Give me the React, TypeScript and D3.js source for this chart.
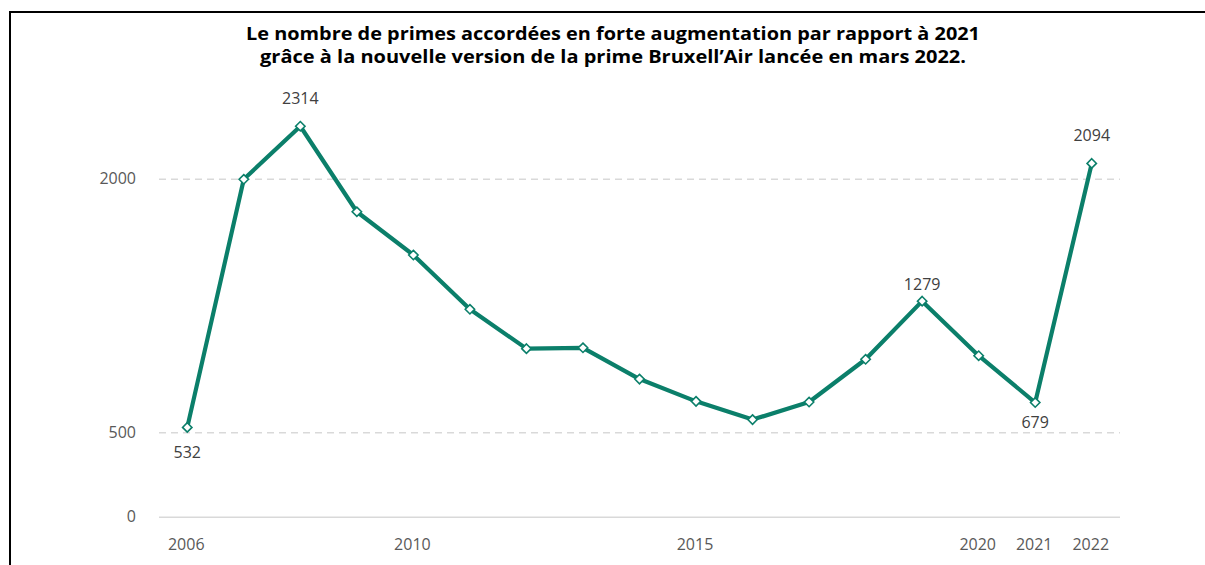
import React from "react";
import * as d3 from "d3";

const years = [2006, 2007, 2008, 2009, 2010, 2011, 2012, 2013, 2014, 2015, 2016, 2017, 2018, 2019, 2020, 2021, 2022];
const primes = [532, 2000, 2314, 1808, 1552, 1231, 998, 1003, 818, 686, 578, 682, 935, 1279, 956, 679, 2094];
const xTickLabels = [2006, 2010, 2015, 2020, 2021, 2022];
const yTicks = [0, 500, 2000];
const labeledYears = [2006, 2008, 2019, 2021, 2022];
const titleLines = [
  "Le nombre de primes accordées en forte augmentation par rapport à 2021",
  "grâce à la nouvelle version de la prime Bruxell’Air lancée en mars 2022.",
];

// label placement styles (pixel offsets of the baseline relative to the marker)
const labelDy: Record<number, number> = { 2006: 31, 2008: -22.7, 2019: -11.4, 2021: 25, 2022: -22.3 };
const titleGeom = [
  { x: 246, w: 734, y: 40 },
  { x: 260, w: 706, y: 63.3 },
];

const W = 1205;
const H = 565;
const GREEN = "#0b7f6a";
const FONT = "'Open Sans', 'Noto Sans', sans-serif";

export default function App() {
  const x = d3.scaleBand<number>().domain(years).range([159, 1120]).padding(0);
  const cx = (yr: number) => (x(yr) as number) + x.bandwidth() / 2;
  const y = d3.scaleLinear().domain([0, 2000]).range([517.3, 179.3]);

  const line = d3
    .line<number>()
    .x((_, i) => cx(years[i]))
    .y((d) => y(d));

  const diamond = d3.symbol().type(d3.symbolDiamond2).size(56)();

  return (
    <svg
      width={W}
      height={H}
      style={{ position: "absolute", left: 0, top: 0, background: "#fff" }}
      fontFamily={FONT}
    >
      <rect x={0} y={0} width={W} height={H} fill="#fff" />
      <rect x={10} y={12} width={W + 20} height={H + 20} fill="none" stroke="#000" strokeWidth={2} />

      {titleLines.map((t, i) => (
        <text
          key={i}
          x={titleGeom[i].x}
          y={titleGeom[i].y}
          textLength={titleGeom[i].w}
          lengthAdjust="spacingAndGlyphs"
          fontSize={18.5}
          fontWeight="bold"
          fill="#000"
        >
          {t}
        </text>
      ))}

      {yTicks.map((t) => (
        <g key={t}>
          <line
            x1={159}
            x2={1120}
            y1={y(t)}
            y2={y(t)}
            stroke="#d9d9d9"
            strokeWidth={1.5}
            strokeDasharray={t === 0 ? undefined : "7 5"}
          />
          <text x={136} y={y(t) + 5} textAnchor="end" fontSize={16} fill="#595959">
            {t}
          </text>
        </g>
      ))}

      {xTickLabels.map((yr) => (
        <text key={yr} x={cx(yr) - 1} y={550} textAnchor="middle" fontSize={16} fill="#595959">
          {yr}
        </text>
      ))}

      <path d={line(primes) || ""} fill="none" stroke={GREEN} strokeWidth={4.2} strokeLinejoin="round" />

      {primes.map((v, i) => (
        <path
          key={i}
          d={diamond || ""}
          transform={`translate(${cx(years[i])},${y(v)})`}
          fill="#fff"
          stroke={GREEN}
          strokeWidth={1.6}
        />
      ))}

      {labeledYears.map((yr) => {
        const i = years.indexOf(yr);
        return (
          <text
            key={yr}
            x={cx(yr)}
            y={y(primes[i]) + labelDy[yr]}
            textAnchor="middle"
            fontSize={16}
            fill="#404040"
          >
            {primes[i]}
          </text>
        );
      })}
    </svg>
  );
}
